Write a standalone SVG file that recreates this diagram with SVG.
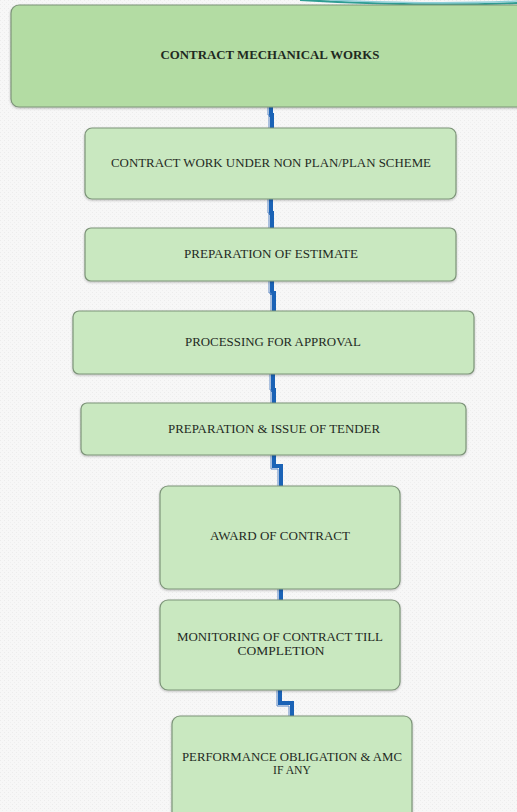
<svg xmlns="http://www.w3.org/2000/svg" width="517" height="812" viewBox="0 0 517 812">
  <defs>
    <pattern id="grain" width="4" height="4" patternUnits="userSpaceOnUse">
      <rect width="4" height="4" fill="#f7f7f7"/>
      <rect x="0" y="0" width="1" height="1" fill="#ececec"/>
      <rect x="2" y="2" width="1" height="1" fill="#efefef"/>
    </pattern>
    <filter id="shade" x="-5%" y="-5%" width="110%" height="115%">
      <feDropShadow dx="0" dy="1" stdDeviation="1" flood-color="#000" flood-opacity="0.25"/>
    </filter>
  </defs>
  <style>
    .box { fill: #c9e8c0; stroke: #7d9479; stroke-width: 1.2; filter: url(#shade); }
    .top { fill: #b3dca3; }
    .lbl { font-family: "Liberation Serif", "DejaVu Serif", serif; font-size: 12px; fill: #1f2a1f; text-anchor: middle; }
    .bold { font-weight: bold; }
    .wire { fill: none; stroke: #1b63b6; stroke-width: 4; }
    .edge { fill: none; stroke: #5d88c4; stroke-width: 1; }
  </style>

  <rect width="517" height="812" fill="url(#grain)"/>

  <!-- decorative swoosh along the top edge -->
  <path d="M300,0 Q420,7 517,3" fill="none" stroke="#2f9d92" stroke-width="2.2"/>
  <path d="M330,0 Q440,5 517,1" fill="none" stroke="#8fcfd8" stroke-width="1.5"/>

  <g id="connectors">
    <path class="wire" d="M271,107 V115 H272 V128"/>
    <path class="edge" d="M268,107 V115 H269 V128"/>
    <path class="wire" d="M271,199 V213 H272 V228"/>
    <path class="edge" d="M268,199 V213 H269 V228"/>
    <path class="wire" d="M272,281 V293 H274 V311"/>
    <path class="edge" d="M269,281 V293 H271 V311"/>
    <path class="wire" d="M273,374 V390 H274 V403"/>
    <path class="edge" d="M270,374 V390 H271 V403"/>
    <path class="wire" d="M274,455 V466 H281 V486"/>
    <path class="edge" d="M271,455 V469 H278 V486"/>
    <path class="wire" d="M281,589 V600"/>
    <path class="edge" d="M278,589 V600"/>
    <path class="wire" d="M280,690 V703 H292 V716"/>
    <path class="edge" d="M277,690 V706 H289 V716"/>
  </g>

  <g id="n1">
    <rect class="box top" x="11" y="5" width="520" height="102" rx="8"/>
    <text class="lbl bold" x="270" y="59" textLength="219" lengthAdjust="spacingAndGlyphs">CONTRACT  MECHANICAL  WORKS</text>
  </g>
  <g id="n2">
    <rect class="box" x="85" y="128" width="371" height="71" rx="7"/>
    <text class="lbl" x="271" y="167" textLength="320" lengthAdjust="spacingAndGlyphs">CONTRACT WORK UNDER NON PLAN/PLAN SCHEME</text>
  </g>
  <g id="n3">
    <rect class="box" x="85" y="228" width="371" height="53" rx="6"/>
    <text class="lbl" x="271" y="258" textLength="174" lengthAdjust="spacingAndGlyphs">PREPARATION OF ESTIMATE</text>
  </g>
  <g id="n4">
    <rect class="box" x="73" y="311" width="401" height="63" rx="6"/>
    <text class="lbl" x="273" y="346" textLength="176" lengthAdjust="spacingAndGlyphs">PROCESSING FOR APPROVAL</text>
  </g>
  <g id="n5">
    <rect class="box" x="81" y="403" width="385" height="52" rx="6"/>
    <text class="lbl" x="274" y="433" textLength="212" lengthAdjust="spacingAndGlyphs">PREPARATION &amp; ISSUE OF TENDER</text>
  </g>
  <g id="n6">
    <rect class="box" x="160" y="486" width="240" height="103" rx="8"/>
    <text class="lbl" x="280" y="540" textLength="140" lengthAdjust="spacingAndGlyphs">AWARD OF CONTRACT</text>
  </g>
  <g id="n7">
    <rect class="box" x="160" y="600" width="240" height="90" rx="8"/>
    <text class="lbl" x="280" y="641" textLength="206" lengthAdjust="spacingAndGlyphs">MONITORING OF CONTRACT TILL</text>
    <text class="lbl" x="281" y="655" textLength="87" lengthAdjust="spacingAndGlyphs">COMPLETION</text>
  </g>
  <g id="n8">
    <rect class="box" x="172" y="716" width="240" height="105" rx="8"/>
    <text class="lbl" x="292" y="761" textLength="220" lengthAdjust="spacingAndGlyphs">PERFORMANCE OBLIGATION &amp; AMC</text>
    <text class="lbl" x="292" y="774" textLength="38" lengthAdjust="spacingAndGlyphs">IF ANY</text>
  </g>
</svg>
